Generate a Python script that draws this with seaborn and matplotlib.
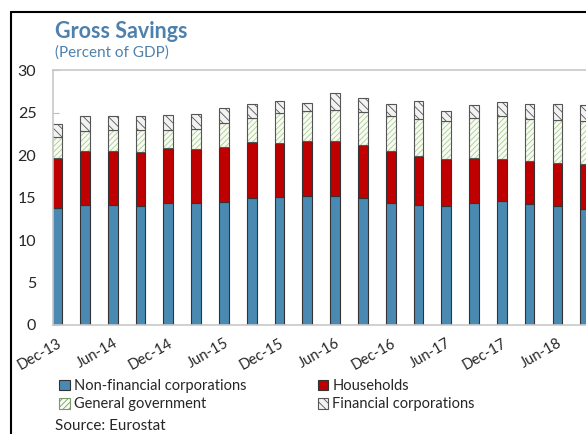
import matplotlib
matplotlib.use("Agg")
import matplotlib.pyplot as plt
import seaborn as sns
import pandas as pd
import numpy as np
from matplotlib.patches import Patch
from matplotlib.lines import Line2D

# Trimestres dic-13 .. sep-18
quarters = ["Dec-13", "Mar-14", "Jun-14", "Sep-14", "Dec-14", "Mar-15", "Jun-15", "Sep-15",
            "Dec-15", "Mar-16", "Jun-16", "Sep-16", "Dec-16", "Mar-17", "Jun-17", "Sep-17",
            "Dec-17", "Mar-18", "Jun-18", "Sep-18"]
nonfin_corp = [13.8, 14.1, 14.1, 14.0, 14.4, 14.3, 14.5, 14.9, 15.1, 15.2,
               15.2, 14.9, 14.3, 14.1, 13.95, 14.4, 14.6, 14.2, 13.95, 13.6]
households = [5.9, 6.4, 6.4, 6.3, 6.4, 6.4, 6.4, 6.6, 6.3, 6.45,
              6.4, 6.25, 6.2, 5.8, 5.55, 5.2, 4.9, 5.07, 5.15, 5.3]
general_gov = [2.4, 2.3, 2.4, 2.6, 2.15, 2.4, 2.9, 2.9, 3.5, 3.55,
               3.75, 3.95, 4.05, 4.35, 4.5, 4.7, 5.06, 4.98, 5.07, 5.1]
financial_corp = [1.5, 1.8, 1.7, 1.7, 1.7, 1.7, 1.7, 1.6, 1.5, 0.9,
                  1.95, 1.65, 1.5, 2.05, 1.15, 1.6, 1.64, 1.8, 1.88, 1.9]
tick_labels = ["Dec-13", "Jun-14", "Dec-14", "Jun-15", "Dec-15",
               "Jun-16", "Dec-16", "Jun-17", "Dec-17", "Jun-18"]

BLUE = "#4a8ab2"
RED = "#c00000"
TITLE_BLUE = "#4f81ad"
EDGE = "#333333"

sns.set_style("white")
plt.rcParams["font.family"] = ["Lato", "DejaVu Sans"]
plt.rcParams["hatch.linewidth"] = 0.6

df = pd.DataFrame({"q": quarters, "nfc": nonfin_corp, "hh": households,
                   "gg": general_gov, "fc": financial_corp})
b_hh = df["nfc"].to_numpy()
b_gg = b_hh + df["hh"].to_numpy()
b_fc = b_gg + df["gg"].to_numpy()

fig = plt.figure(figsize=(5.86, 4.34), dpi=100)
ax = fig.add_axes([53 / 586, 1 - 325 / 434, 1 - 53 / 586 + 0.02, (325 - 70) / 434])

W = 0.35
sns.barplot(data=df, x="q", y="nfc", order=quarters, color=BLUE, width=W,
            edgecolor=EDGE, linewidth=0.8, saturation=1, ax=ax)
sns.barplot(data=df, x="q", y="hh", order=quarters, color=RED, width=W, bottom=b_hh,
            edgecolor=EDGE, linewidth=0.8, saturation=1, ax=ax)
# gobierno general: trama verde clara, contorno oscuro aparte
sns.barplot(data=df, x="q", y="gg", order=quarters, color="#f7fbf2", width=W, bottom=b_gg,
            edgecolor="#a9cc93", hatch="//////", linewidth=0, saturation=1, ax=ax)
sns.barplot(data=df, x="q", y="gg", order=quarters, color="#555555", fill=False, width=W,
            bottom=b_gg, linewidth=0.8, saturation=1, ax=ax)
sns.barplot(data=df, x="q", y="fc", order=quarters, color="#f2f2f2", width=W, bottom=b_fc,
            edgecolor="#555555", hatch="\\\\\\\\", linewidth=0.8, saturation=1, ax=ax)

ax.set_ylim(0, 30)
ax.set_yticks([0, 5, 10, 15, 20, 25, 30])
ax.set_xlim(-0.15, 19.45)
ax.set_xticks(range(0, 20, 2))
ax.set_xticklabels(tick_labels, rotation=30, ha="right", rotation_mode="anchor")
ax.set_xlabel("")
ax.set_ylabel("")
ax.tick_params(axis="y", direction="in", length=4, color="#bbbbbb", labelsize=11.5, pad=12,
               left=True)
ax.tick_params(axis="x", length=0, labelsize=10.5, pad=8)
for s in ["left", "top", "bottom"]:
    ax.spines[s].set_color("#c8c8c8")
    ax.spines[s].set_linewidth(1.2)
ax.spines["right"].set_visible(False)

fig.text(55 / 586, 1 - 31 / 434, "Gross Savings", color=TITLE_BLUE, fontsize=15.5,
         fontweight="bold", va="center", ha="left")
fig.text(55 / 586, 1 - 53 / 434, "(Percent of GDP)", color=TITLE_BLUE, fontsize=11,
         va="center", ha="left")

handles = [
    Patch(facecolor=BLUE, edgecolor=EDGE, linewidth=0.8, label="Non-financial corporations"),
    Patch(facecolor="#f7fbf2", edgecolor="#7a9a6a", hatch="//////", linewidth=0.8,
          label="General government"),
    Patch(facecolor=RED, edgecolor=EDGE, linewidth=0.8, label="Households"),
    Patch(facecolor="#f2f2f2", edgecolor="#555555", hatch="\\\\\\\\", linewidth=0.8,
          label="Financial corporations"),
]
fig.legend(handles=handles, ncol=2, loc="upper left", bbox_to_anchor=(59 / 586, 1 - 379 / 434),
           frameon=False, fontsize=10.5, handlelength=0.75, handleheight=0.75,
           handletextpad=0.25, columnspacing=4.9, labelspacing=0.3, borderaxespad=0,
           borderpad=0)

fig.text(55 / 586, 1 - 419 / 434, "Source: Eurostat", fontsize=11, va="top", ha="left")

# marco negro exterior
fig.add_artist(Line2D([11 / 586, 11 / 586], [0, 1 - 12 / 434], color="black", lw=1.5))
fig.add_artist(Line2D([11 / 586, 1], [1 - 12 / 434, 1 - 12 / 434], color="black", lw=1.5))

fig.savefig("out.png", dpi=100)
